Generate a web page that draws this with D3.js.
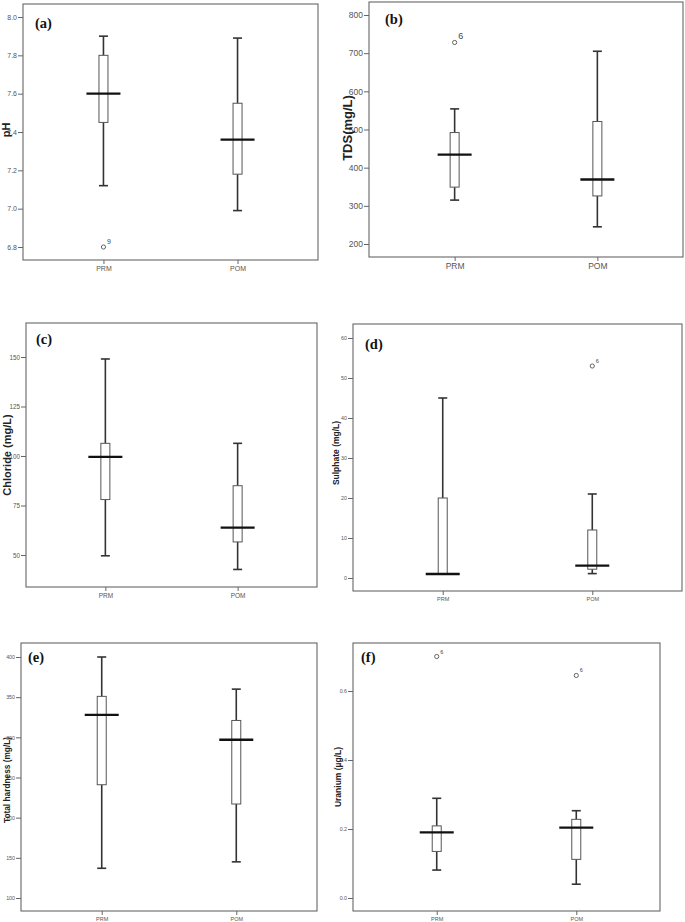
<!DOCTYPE html>
<html>
<head>
<meta charset="utf-8">
<script src="https://cdn.jsdelivr.net/npm/d3@7"></script>
<style>
  html, body { margin: 0; padding: 0; background: #fff; }
  svg { display: block; }
</style>
</head>
<body>
<svg id="chart" width="685" height="922"></svg>
<script>
// ---------------- DATA ----------------
const groups = ["PRM", "POM"];

// five-number summaries: [lower whisker, Q1, median, Q3, upper whisker]
const phTicks = [6.8, 7.0, 7.2, 7.4, 7.6, 7.8, 8.0];
const phStats = [[7.12, 7.45, 7.60, 7.80, 7.90], [6.99, 7.18, 7.36, 7.55, 7.89]];
const phOutliers = [{ group: "PRM", value: 6.8, id: "9" }];

const tdsTicks = [200, 300, 400, 500, 600, 700, 800];
const tdsStats = [[315, 349, 434, 492, 554], [245, 326, 369, 521, 705]];
const tdsOutliers = [{ group: "PRM", value: 728, id: "6" }];

const clTicks = [50, 75, 100, 125, 150];
const clStats = [[49.6, 78, 99.6, 106.4, 149], [42.7, 56.6, 63.8, 85, 106.4]];
const clOutliers = [];

const soTicks = [0, 10, 20, 30, 40, 50, 60];
const soStats = [[1, 1, 1, 20, 45], [1.1, 2.2, 3.1, 12, 21]];
const soOutliers = [{ group: "POM", value: 53, id: "6" }];

const thTicks = [100, 150, 200, 250, 300, 350, 400];
const thStats = [[137, 241, 328, 351, 400], [145, 217, 297, 321, 360]];
const thOutliers = [];

const uTicks = [0.0, 0.2, 0.4, 0.6];
const uStats = [[0.081, 0.135, 0.190, 0.209, 0.289], [0.040, 0.112, 0.204, 0.228, 0.253]];
const uOutliers = [{ group: "PRM", value: 0.70, id: "6" }, { group: "POM", value: 0.645, id: "6" }];

// ---------------- LAYOUT ----------------
const panels = [
  { tag: "(a)", title: "pH", ticks: phTicks, stats: phStats, outliers: phOutliers, fmt: ".1f",
    left: 23, right: 318, top: 4, bottom: 260, y0: 247, y1: 17,
    tickFont: 7, catFont: 7, titleFont: 11, titleX: 10, titleY: 130,
    tagX: 35, tagY: 28, outFont: 7 },
  { tag: "(b)", title: "TDS(mg/L)", ticks: tdsTicks, stats: tdsStats, outliers: tdsOutliers, fmt: "d",
    left: 369, right: 683, top: 2, bottom: 257, y0: 244, y1: 15,
    tickFont: 8.5, catFont: 8.5, titleFont: 13, titleX: 352, titleY: 128,
    tagX: 385, tagY: 24, outFont: 9 },
  { tag: "(c)", title: "Chloride (mg/L)", ticks: clTicks, stats: clStats, outliers: clOutliers, fmt: "d",
    left: 26, right: 317, top: 323, bottom: 587, y0: 555, y1: 357,
    tickFont: 6.3, catFont: 6.5, titleFont: 11, titleX: 11, titleY: 455,
    tagX: 36, tagY: 344, outFont: 6 },
  { tag: "(d)", title: "Sulphate (mg/L)", ticks: soTicks, stats: soStats, outliers: soOutliers, fmt: "d",
    left: 353, right: 682, top: 324, bottom: 591, y0: 578, y1: 338,
    tickFont: 5.3, catFont: 5.5, titleFont: 8.5, titleX: 339, titleY: 453,
    tagX: 365, tagY: 349, outFont: 5.5 },
  { tag: "(e)", title: "Total hardness (mg/L)", ticks: thTicks, stats: thStats, outliers: thOutliers, fmt: "d",
    left: 21, right: 317, top: 643, bottom: 911, y0: 898, y1: 657,
    tickFont: 5.3, catFont: 5.5, titleFont: 8.3, titleX: 10, titleY: 780,
    tagX: 28, tagY: 662, outFont: 5.5 },
  { tag: "(f)", title: "Uranium (µg/L)", ticks: uTicks, stats: uStats, outliers: uOutliers, fmt: ".1f",
    left: 353, right: 660, top: 643, bottom: 911, y0: 898, y1: 691,
    tickFont: 5.3, catFont: 5.5, titleFont: 8.5, titleX: 341, titleY: 777,
    tagX: 361, tagY: 662, outFont: 5.5 }
];

const svg = d3.select("#chart");
const sans = "'Liberation Sans', Arial, sans-serif";
const serif = "'Liberation Serif', 'Times New Roman', serif";

panels.forEach(p => {
  const g = svg.append("g");
  const x = d3.scalePoint().domain(groups).range([p.left, p.right]).padding(0.6);
  const y = d3.scaleLinear()
    .domain([p.ticks[0], p.ticks[p.ticks.length - 1]])
    .range([p.y0, p.y1]);

  const boxW = 9, medW = 34;

  // frame
  g.append("rect")
    .attr("x", p.left).attr("y", p.top)
    .attr("width", p.right - p.left).attr("height", p.bottom - p.top)
    .attr("fill", "#fff").attr("stroke", "#666").attr("stroke-width", 1.1);

  // y axis
  const yAxis = d3.axisLeft(y).tickValues(p.ticks).tickSize(5).tickPadding(1)
    .tickFormat(d3.format(p.fmt));
  const ya = g.append("g").attr("transform", `translate(${p.left},0)`).call(yAxis);
  ya.select(".domain").remove();
  ya.selectAll(".tick line").attr("stroke", "#666");
  ya.selectAll(".tick text").attr("fill", "#555")
    .style("font-family", sans).style("font-size", p.tickFont + "px");

  // x axis
  const xAxis = d3.axisBottom(x).tickSize(4).tickPadding(2);
  const xa = g.append("g").attr("transform", `translate(0,${p.bottom})`).call(xAxis);
  xa.select(".domain").remove();
  xa.selectAll(".tick line").attr("stroke", "#666");
  xa.selectAll(".tick text").attr("fill", "#555")
    .style("font-family", sans).style("font-size", p.catFont + "px");

  // boxes
  groups.forEach((grp, i) => {
    const [mn, q1, md, q3, mx] = p.stats[i];
    const cx = x(grp);
    const bg = g.append("g");
    const wStroke = "#333", wW = 1.6;
    // upper whisker
    if (mx > q3) {
      bg.append("line").attr("x1", cx).attr("x2", cx).attr("y1", y(q3)).attr("y2", y(mx))
        .attr("stroke", wStroke).attr("stroke-width", wW);
      bg.append("line").attr("x1", cx - boxW / 2).attr("x2", cx + boxW / 2)
        .attr("y1", y(mx)).attr("y2", y(mx)).attr("stroke", wStroke).attr("stroke-width", wW);
    }
    // lower whisker
    if (mn < q1) {
      bg.append("line").attr("x1", cx).attr("x2", cx).attr("y1", y(q1)).attr("y2", y(mn))
        .attr("stroke", wStroke).attr("stroke-width", wW);
      bg.append("line").attr("x1", cx - boxW / 2).attr("x2", cx + boxW / 2)
        .attr("y1", y(mn)).attr("y2", y(mn)).attr("stroke", wStroke).attr("stroke-width", wW);
    }
    // box
    bg.append("rect")
      .attr("x", cx - boxW / 2).attr("y", y(q3))
      .attr("width", boxW).attr("height", Math.max(0.5, y(q1) - y(q3)))
      .attr("fill", "#fff").attr("stroke", "#555").attr("stroke-width", 1);
    // median
    bg.append("line").attr("x1", cx - medW / 2).attr("x2", cx + medW / 2)
      .attr("y1", y(md)).attr("y2", y(md))
      .attr("stroke", "#111").attr("stroke-width", 2.3);
  });

  // outliers
  p.outliers.forEach(o => {
    const cx = x(o.group), cy = y(o.value);
    g.append("circle").attr("cx", cx).attr("cy", cy).attr("r", 2.1)
      .attr("fill", "none").attr("stroke", "#555").attr("stroke-width", 0.9);
    g.append("text").attr("x", cx + 3.5).attr("y", cy - 3)
      .attr("fill", "#444").style("font-family", sans).style("font-size", p.outFont + "px")
      .text(o.id);
  });

  // axis title
  g.append("text")
    .attr("transform", `translate(${p.titleX},${p.titleY}) rotate(-90)`)
    .attr("text-anchor", "middle")
    .attr("fill", "#222")
    .style("font-family", sans).style("font-weight", "bold")
    .style("font-size", p.titleFont + "px")
    .text(p.title);

  // panel tag
  g.append("text").attr("x", p.tagX).attr("y", p.tagY)
    .attr("fill", "#111")
    .style("font-family", serif).style("font-weight", "bold").style("font-size", "14.5px")
    .text(p.tag);
});
</script>
</body>
</html>
